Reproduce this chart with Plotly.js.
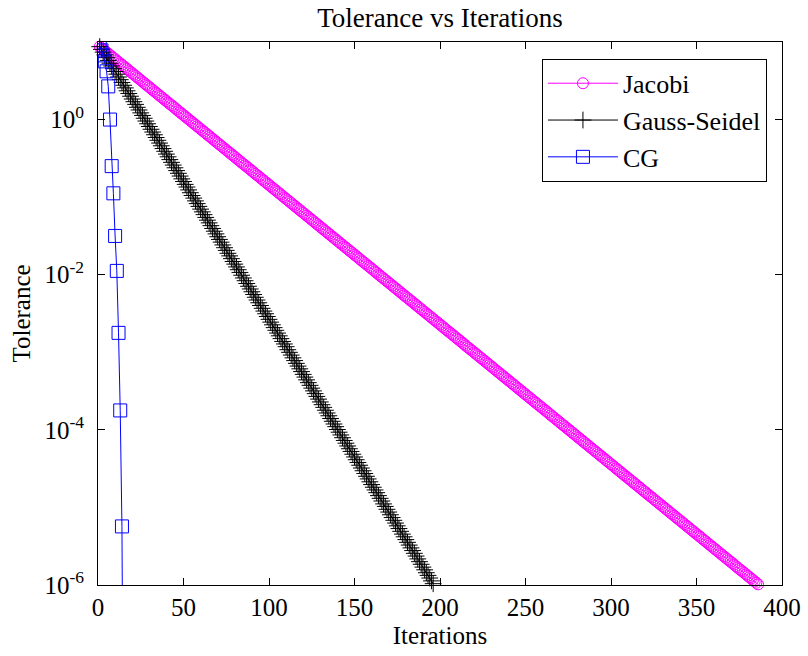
<!DOCTYPE html>
<html>
<head>
<meta charset="utf-8">
<script src="https://cdn.plot.ly/plotly-3.0.1.min.js"></script>
<style>
html,body{margin:0;padding:0;background:#fff;}
#chart{width:808px;height:656px;}
</style>
</head>
<body>
<div id="chart"></div>
<script>
// Tolerance per iteration
const jacobiTol = [
8.71,8.36,8.02,7.69,7.38,7.08,6.79,6.52,6.25,6.00,
5.75,5.52,5.30,5.08,4.88,4.68,4.49,4.31,4.13,3.96,
3.80,3.65,3.50,3.36,3.22,3.09,2.96,2.84,2.73,2.62,
2.51,2.41,2.31,2.22,2.13,2.04,1.96,1.88,1.80,1.73,
1.66,1.59,1.53,1.47,1.41,1.35,1.29,1.24,1.19,1.14,
1.10,1.05,1.01,
9.68e-1,9.29e-1,8.91e-1,8.55e-1,8.20e-1,7.87e-1,7.55e-1,7.24e-1,6.95e-1,6.67e-1,
6.40e-1,6.14e-1,5.89e-1,5.65e-1,5.42e-1,5.20e-1,4.99e-1,4.79e-1,4.59e-1,4.41e-1,
4.23e-1,4.06e-1,3.89e-1,3.73e-1,3.58e-1,3.44e-1,3.30e-1,3.16e-1,3.03e-1,2.91e-1,
2.79e-1,2.68e-1,2.57e-1,2.47e-1,2.37e-1,2.27e-1,2.18e-1,2.09e-1,2.00e-1,1.92e-1,
1.85e-1,1.77e-1,1.70e-1,1.63e-1,1.56e-1,1.50e-1,1.44e-1,1.38e-1,1.32e-1,1.27e-1,
1.22e-1,1.17e-1,1.12e-1,1.08e-1,1.03e-1,
9.91e-2,9.51e-2,9.12e-2,8.75e-2,8.39e-2,8.05e-2,7.73e-2,7.41e-2,7.11e-2,6.82e-2,
6.55e-2,6.28e-2,6.03e-2,5.78e-2,5.55e-2,5.32e-2,5.11e-2,4.90e-2,4.70e-2,4.51e-2,
4.33e-2,4.15e-2,3.98e-2,3.82e-2,3.66e-2,3.52e-2,3.37e-2,3.24e-2,3.10e-2,2.98e-2,
2.86e-2,2.74e-2,2.63e-2,2.52e-2,2.42e-2,2.32e-2,2.23e-2,2.14e-2,2.05e-2,1.97e-2,
1.89e-2,1.81e-2,1.74e-2,1.67e-2,1.60e-2,1.53e-2,1.47e-2,1.41e-2,1.36e-2,1.30e-2,
1.25e-2,1.20e-2,1.15e-2,1.10e-2,1.06e-2,1.01e-2,
9.73e-3,9.33e-3,8.95e-3,8.59e-3,8.24e-3,7.91e-3,7.59e-3,7.28e-3,6.98e-3,6.70e-3,
6.43e-3,6.17e-3,5.92e-3,5.67e-3,5.44e-3,5.22e-3,5.01e-3,4.81e-3,4.61e-3,4.43e-3,
4.25e-3,4.07e-3,3.91e-3,3.75e-3,3.60e-3,3.45e-3,3.31e-3,3.18e-3,3.05e-3,2.92e-3,
2.81e-3,2.69e-3,2.58e-3,2.48e-3,2.38e-3,2.28e-3,2.19e-3,2.10e-3,2.01e-3,1.93e-3,
1.85e-3,1.78e-3,1.71e-3,1.64e-3,1.57e-3,1.51e-3,1.45e-3,1.39e-3,1.33e-3,1.28e-3,
1.22e-3,1.17e-3,1.13e-3,1.08e-3,1.04e-3,
9.95e-4,9.55e-4,9.16e-4,8.79e-4,8.43e-4,8.09e-4,7.76e-4,7.45e-4,7.14e-4,6.86e-4,
6.58e-4,6.31e-4,6.05e-4,5.81e-4,5.57e-4,5.35e-4,5.13e-4,4.92e-4,4.72e-4,4.53e-4,
4.35e-4,4.17e-4,4.00e-4,3.84e-4,3.68e-4,3.53e-4,3.39e-4,3.25e-4,3.12e-4,2.99e-4,
2.87e-4,2.75e-4,2.64e-4,2.54e-4,2.43e-4,2.33e-4,2.24e-4,2.15e-4,2.06e-4,1.98e-4,
1.90e-4,1.82e-4,1.75e-4,1.68e-4,1.61e-4,1.54e-4,1.48e-4,1.42e-4,1.36e-4,1.31e-4,
1.25e-4,1.20e-4,1.15e-4,1.11e-4,1.06e-4,1.02e-4,
9.77e-5,9.38e-5,9.00e-5,8.63e-5,8.28e-5,7.94e-5,7.62e-5,7.31e-5,7.01e-5,6.73e-5,
6.46e-5,6.19e-5,5.94e-5,5.70e-5,5.47e-5,5.25e-5,5.04e-5,4.83e-5,4.63e-5,4.45e-5,
4.27e-5,4.09e-5,3.93e-5,3.77e-5,3.61e-5,3.47e-5,3.33e-5,3.19e-5,3.06e-5,2.94e-5,
2.82e-5,2.70e-5,2.59e-5,2.49e-5,2.39e-5,2.29e-5,2.20e-5,2.11e-5,2.02e-5,1.94e-5,
1.86e-5,1.79e-5,1.71e-5,1.64e-5,1.58e-5,1.51e-5,1.45e-5,1.39e-5,1.34e-5,1.28e-5,
1.23e-5,1.18e-5,1.13e-5,1.09e-5,1.04e-5,1.00e-5,
9.59e-6,9.20e-6,8.83e-6,8.47e-6,8.13e-6,7.80e-6,7.48e-6,7.18e-6,6.89e-6,6.61e-6,
6.34e-6,6.08e-6,5.83e-6,5.60e-6,5.37e-6,5.15e-6,4.94e-6,4.74e-6,4.55e-6,4.37e-6,
4.19e-6,4.02e-6,3.85e-6,3.70e-6,3.55e-6,3.40e-6,3.27e-6,3.13e-6,3.01e-6,2.88e-6,
2.77e-6,2.65e-6,2.55e-6,2.44e-6,2.34e-6,2.25e-6,2.16e-6,2.07e-6,1.99e-6,1.91e-6,
1.83e-6,1.75e-6,1.68e-6,1.61e-6,1.55e-6,1.49e-6,1.43e-6,1.37e-6,1.31e-6,1.26e-6,
1.21e-6,1.16e-6,1.11e-6,1.07e-6,1.02e-6
];

const gaussSeidelTol = [
8.71,8.03,7.40,6.82,6.28,5.79,5.33,4.91,4.53,4.17,
3.85,3.54,3.27,3.01,2.77,2.56,2.35,2.17,2.00,1.84,
1.70,1.57,1.44,1.33,1.22,1.13,1.04,
9.58e-1,8.83e-1,8.14e-1,7.50e-1,6.91e-1,6.37e-1,5.87e-1,5.41e-1,4.98e-1,4.59e-1,
4.23e-1,3.90e-1,3.59e-1,3.31e-1,3.05e-1,2.81e-1,2.59e-1,2.39e-1,2.20e-1,2.03e-1,
1.87e-1,1.72e-1,1.59e-1,1.46e-1,1.35e-1,1.24e-1,1.14e-1,1.05e-1,
9.72e-2,8.95e-2,8.25e-2,7.60e-2,7.01e-2,6.46e-2,5.95e-2,5.48e-2,5.05e-2,4.66e-2,
4.29e-2,3.95e-2,3.64e-2,3.36e-2,3.09e-2,2.85e-2,2.63e-2,2.42e-2,2.23e-2,2.06e-2,
1.89e-2,1.75e-2,1.61e-2,1.48e-2,1.37e-2,1.26e-2,1.16e-2,1.07e-2,
9.85e-3,9.08e-3,8.37e-3,7.71e-3,7.10e-3,6.55e-3,6.03e-3,5.56e-3,5.12e-3,4.72e-3,
4.35e-3,4.01e-3,3.69e-3,3.40e-3,3.14e-3,2.89e-3,2.66e-3,2.45e-3,2.26e-3,2.08e-3,
1.92e-3,1.77e-3,1.63e-3,1.50e-3,1.38e-3,1.28e-3,1.18e-3,1.08e-3,
9.99e-4,9.20e-4,8.48e-4,7.82e-4,7.20e-4,6.64e-4,6.12e-4,5.64e-4,5.19e-4,4.79e-4,
4.41e-4,4.06e-4,3.75e-4,3.45e-4,3.18e-4,2.93e-4,2.70e-4,2.49e-4,2.29e-4,2.11e-4,
1.95e-4,1.79e-4,1.65e-4,1.52e-4,1.40e-4,1.29e-4,1.19e-4,1.10e-4,1.01e-4,
9.33e-5,8.60e-5,7.92e-5,7.30e-5,6.73e-5,6.20e-5,5.71e-5,5.27e-5,4.85e-5,4.47e-5,
4.12e-5,3.80e-5,3.50e-5,3.22e-5,2.97e-5,2.74e-5,2.52e-5,2.33e-5,2.14e-5,1.97e-5,
1.82e-5,1.68e-5,1.55e-5,1.42e-5,1.31e-5,1.21e-5,1.11e-5,1.03e-5,
9.46e-6,8.72e-6,8.04e-6,7.40e-6,6.82e-6,6.29e-6,5.79e-6,5.34e-6,4.92e-6,4.53e-6,
4.18e-6,3.85e-6,3.55e-6,3.27e-6,3.01e-6,2.78e-6,2.56e-6,2.36e-6,2.17e-6,2.00e-6,
1.85e-6,1.70e-6,1.57e-6,1.44e-6,1.33e-6,1.23e-6,1.13e-6,1.04e-6
];

const cgTol = [9.04, 7.80, 6.72, 5.63, 4.19, 2.68, 1.00, 2.51e-1, 1.12e-1,
  3.16e-2, 1.12e-2, 1.78e-3, 1.78e-4, 5.69e-6, 1.0e-9];

const seriesNames = ['Jacobi', 'Gauss-Seidel', 'CG'];
const yTickVals = [1e-6, 1e-4, 1e-2, 1];
const yTickText = ['10<sup>-6</sup>', '10<sup>-4</sup>', '10<sup>-2</sup>', '10<sup>0</sup>'];
const xTickVals = [0, 50, 100, 150, 200, 250, 300, 350, 400];

// iteration numbers are the 1-based positions in each sequence
const iters = arr => arr.map((_, k) => k + 1);

const FONT = '"Liberation Serif", "Times New Roman", Times, serif';

const traces = [
  {
    x: iters(jacobiTol), y: jacobiTol, name: seriesNames[0],
    type: 'scatter', mode: 'lines+markers', cliponaxis: false,
    line: {color: '#FF00FF', width: 1},
    marker: {symbol: 'circle-open', size: 11, color: '#FF00FF', line: {width: 1, color: '#FF00FF'}}
  },
  {
    x: iters(gaussSeidelTol), y: gaussSeidelTol, name: seriesNames[1],
    type: 'scatter', mode: 'lines+markers', cliponaxis: false,
    line: {color: '#000000', width: 1},
    marker: {symbol: 'cross-thin-open', size: 12, color: '#000000', line: {width: 1, color: '#000000'}}
  },
  {
    x: iters(cgTol), y: cgTol, name: seriesNames[2],
    type: 'scatter', mode: 'lines+markers', cliponaxis: true,
    line: {color: '#0000FF', width: 1},
    marker: {symbol: 'square-open', size: 13, color: '#0000FF', line: {width: 1, color: '#0000FF'}}
  }
];

const layout = {
  width: 808, height: 656,
  paper_bgcolor: '#ffffff', plot_bgcolor: '#ffffff',
  margin: {l: 98, r: 26, t: 42, b: 71, pad: 0},
  font: {family: FONT, size: 25, color: '#000000'},
  title: {text: 'Tolerance vs Iterations', x: 0.5, xref: 'paper', xanchor: 'center',
          y: 0.9726, yref: 'container', yanchor: 'middle', font: {family: FONT, size: 27, color: '#000'}},
  showlegend: true,
  legend: {
    x: 0.978, xanchor: 'right', y: 0.969, yanchor: 'top',
    bgcolor: '#ffffff', bordercolor: '#000000', borderwidth: 1,
    font: {family: FONT, size: 26, color: '#000'}, itemwidth: 70, tracegroupgap: 0
  },
  xaxis: {
    range: [0, 400], tickmode: 'array', tickvals: xTickVals,
    ticks: 'inside', ticklen: 7, tickwidth: 1, tickcolor: '#000',
    showline: true, linecolor: '#000', linewidth: 1, mirror: 'ticks',
    showgrid: false, zeroline: false, ticklabelstandoff: 0,
    tickfont: {family: FONT, size: 25, color: '#000'},
    title: {text: 'Iterations', font: {family: FONT, size: 25, color: '#000'}, standoff: 6}
  },
  yaxis: {
    type: 'log', range: [-6, 1], tickmode: 'array', tickvals: yTickVals, ticktext: yTickText,
    ticks: 'inside', ticklen: 7, tickwidth: 1, tickcolor: '#000',
    showline: true, linecolor: '#000', linewidth: 1, mirror: 'ticks',
    showgrid: false, zeroline: false, ticklabelstandoff: 8,
    tickfont: {family: FONT, size: 25, color: '#000'},
    title: {text: 'Tolerance', font: {family: FONT, size: 25, color: '#000'}, standoff: 6}
  }
};

Plotly.newPlot('chart', traces, layout, {displayModeBar: false, staticPlot: true});
</script>
</body>
</html>
